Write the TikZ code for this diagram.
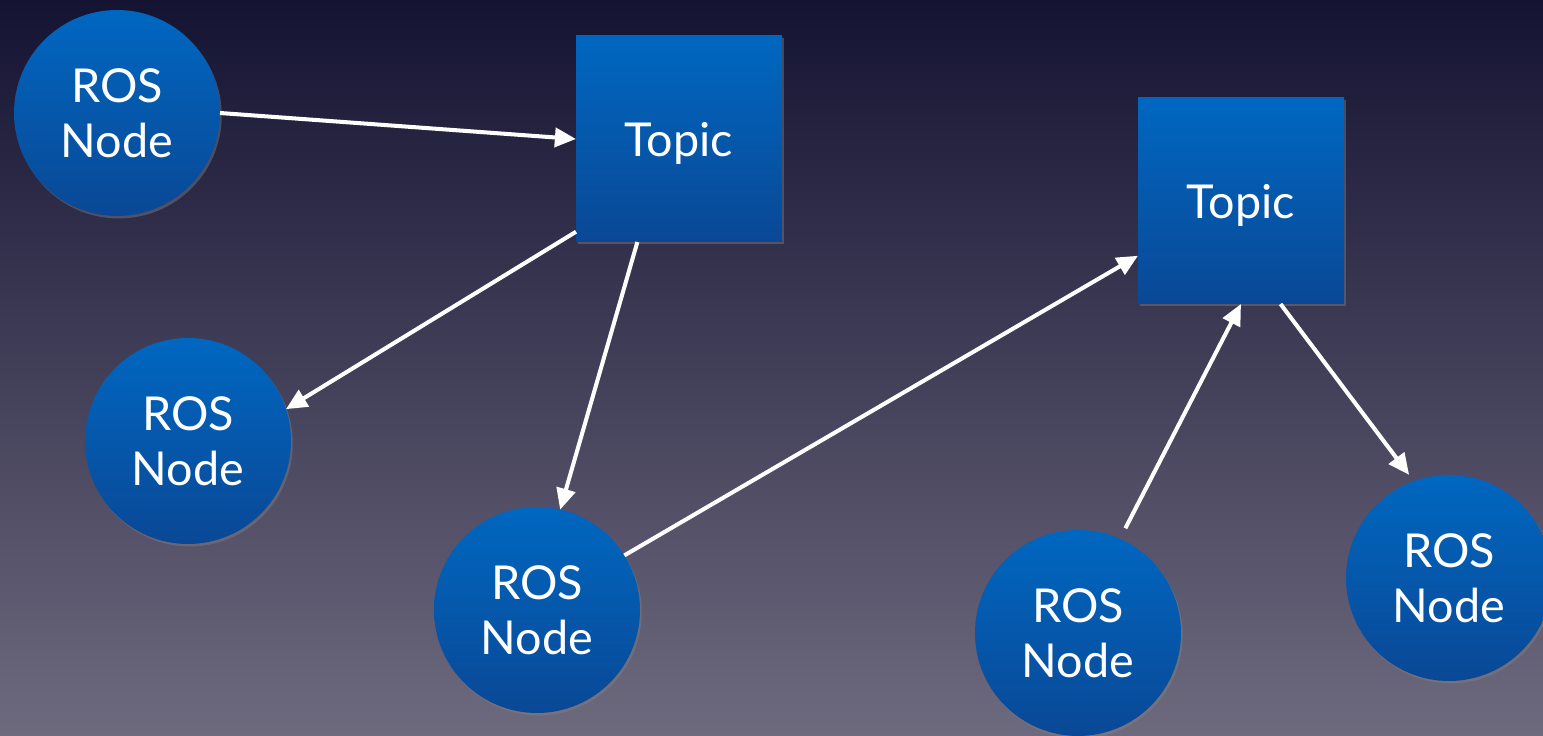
\documentclass[tikz,border=0pt]{standalone}
\usepackage{fontspec}
\setmainfont{Lato}
\usetikzlibrary{arrows.meta,shadows}

\definecolor{bgtop}{RGB}{20,19,50}
\definecolor{bgbot}{RGB}{110,106,126}
\definecolor{bluetop}{RGB}{0,103,192}
\definecolor{bluebot}{RGB}{10,72,150}

\begin{document}
\begin{tikzpicture}
\tikzset{ >={Triangle[length=6pt,width=5.4pt]},
  rosnode/.style={circle, minimum size=2.06cm, inner sep=0pt, outer sep=0pt,
    top color=bluetop, bottom color=bluebot, text=white, align=center,
    font=\fontsize{13.3}{15.6}\selectfont,
    drop shadow={opacity=0.45, shadow xshift=0.5pt, shadow yshift=-0.7pt}},
  topic/.style={rectangle, minimum size=2.06cm, inner sep=0pt, outer sep=0pt,
    top color=bluetop, bottom color=bluebot, text=white, text depth=0pt,
    font=\fontsize{13.3}{15.6}\selectfont,
    drop shadow={opacity=0.45, shadow xshift=0.5pt, shadow yshift=-0.7pt}},
  link/.style={->, white, line width=1.15pt},
}

\useasboundingbox (0,0) rectangle (15.43,7.36);
\shade [top color=bgtop, bottom color=bgbot] (0,0) rectangle (15.43,7.36);

% topics
\node [topic] (T1) at (6.79,5.97) {Topic};
\node [topic] (T2) at (12.41,5.35) {Topic};

% ros nodes
\node [rosnode] (N1) at (1.17,6.23) {ROS\\Node};
\node [rosnode] (N2) at (1.88,2.95) {ROS\\Node};
\node [rosnode] (N3) at (5.37,1.26) {ROS\\Node};
\node [rosnode] (N4) at (10.78,1.03) {ROS\\Node};
\node [rosnode] (N5) at (14.49,1.58) {ROS\\Node};

\draw [link] (N1.east) -- (T1.west);
\draw [link] (T1.222)  -- (N2.18);
\draw [link] (T1.248)  -- (N3.77);
\draw [link] (N3.32)   -- (T2.208);
\draw [link, shorten <=0.12cm] (N4.66) -- (T2.south);
\draw [link] (T2.291)  -- ([shift={(-0.03,0.07)}]N5.111);

\end{tikzpicture}
\end{document}
